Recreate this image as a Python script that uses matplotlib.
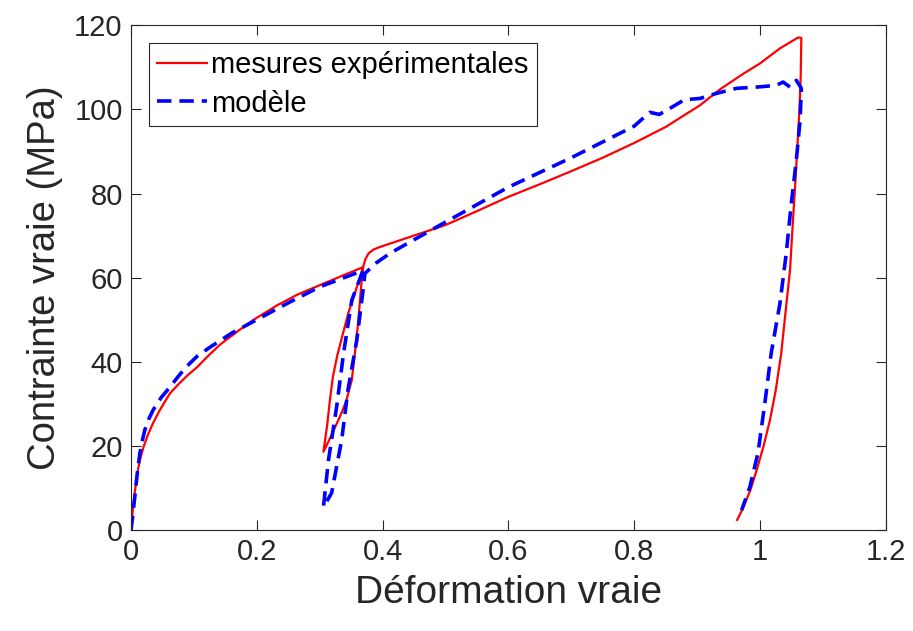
import matplotlib.pyplot as plt

# mesures expérimentales (déformation, contrainte)
exp_x = [0.0, 0.001, 0.003, 0.006, 0.010, 0.014, 0.020, 0.027, 0.035, 0.045, 0.055,
         0.062, 0.075, 0.090, 0.105, 0.120, 0.141, 0.170, 0.194, 0.232, 0.265, 0.30,
         0.335, 0.369,
         0.366, 0.361, 0.356, 0.351, 0.342, 0.332, 0.318, 0.306,
         0.312, 0.316, 0.321, 0.328, 0.337, 0.346, 0.356, 0.364, 0.369,
         0.373, 0.378, 0.386, 0.396, 0.42, 0.45, 0.5, 0.55, 0.6, 0.65, 0.7, 0.75,
         0.8, 0.85, 0.905, 0.937, 0.974, 1.0, 1.032, 1.061, 1.066,
         1.065, 1.063, 1.060, 1.056, 1.052, 1.048, 1.041, 1.034, 1.025, 1.016,
         1.006, 0.995, 0.985, 0.974, 0.964]
exp_y = [0.0, 2.0, 5.0, 9.0, 13.5, 16.6, 19.8, 22.7, 25.4, 28.3, 30.8,
         32.5, 34.6, 36.8, 38.7, 41.0, 44.0, 47.3, 49.9, 53.4, 56.0, 58.2,
         60.4, 62.5,
         58.0, 49.0, 42.0, 35.6, 30.5, 26.9, 22.3, 18.6,
         25.0, 30.5, 36.4, 41.5, 46.7, 51.8, 56.3, 60.0, 62.5,
         64.5, 65.8, 66.7, 67.3, 68.5, 70.0, 72.5, 75.8, 79.2, 82.2, 85.3, 88.5,
         92.0, 95.8, 101.0, 104.8, 108.5, 110.9, 114.5, 117.1, 117.0,
         108.0, 100.0, 92.0, 81.5, 72.0, 61.8, 52.0, 42.0, 33.0, 26.1,
         20.0, 14.3, 9.5, 5.5, 2.4]

# modèle
mod_x = [0.0, 0.002, 0.006, 0.010, 0.014, 0.018, 0.022, 0.028, 0.035, 0.048, 0.062,
         0.075, 0.088, 0.105, 0.126, 0.160, 0.2, 0.25, 0.3, 0.369,
         0.351, 0.338, 0.327, 0.314, 0.306,
         0.319, 0.335, 0.345, 0.359, 0.369, 0.372, 0.39, 0.412, 0.45, 0.5, 0.6, 0.7,
         0.8, 0.825, 0.84, 0.86, 0.88, 0.905, 0.931, 0.963, 0.995, 1.026, 1.037,
         1.048, 1.058, 1.066,
         1.064, 1.058, 1.050, 1.042, 1.032, 1.018, 1.008, 0.997, 0.984, 0.971]
mod_y = [0.0, 2.4, 7.9, 13.5, 18.2, 21.3, 23.8, 26.3, 28.5, 31.5, 34.0,
         36.5, 38.8, 41.3, 43.5, 46.8, 50.0, 54.0, 57.8, 61.7,
         54.6, 42.0, 29.3, 16.6, 5.5,
         8.8, 21.4, 33.3, 45.1, 57.0, 61.0, 63.5, 65.8, 69.0, 73.2, 81.5, 88.5,
         96.0, 99.3, 98.8, 100.5, 102.3, 102.6, 103.8, 105.0, 105.3, 105.7, 106.5,
         105.3, 106.9, 105.0,
         97.4, 87.9, 77.6, 65.8, 53.9, 42.0, 30.2, 18.3, 10.2, 4.7]

plt.rcParams['font.family'] = ['Liberation Sans', 'DejaVu Sans']

fig = plt.figure(figsize=(9.13, 6.31), dpi=100)
ax = fig.add_axes([0.1435, 0.160, 0.8265, 0.800])

ax.plot(exp_x, exp_y, color='#ff0000', lw=1.6, label='mesures expérimentales')
ax.plot(mod_x, mod_y, color='#0000ff', lw=2.6, ls=(0, (4, 2.2)), label='modèle')

ax.set_xlim(0, 1.2)
ax.set_ylim(0, 120)
ax.set_xticks([0, 0.2, 0.4, 0.6, 0.8, 1, 1.2])
ax.set_xticklabels(['0', '0.2', '0.4', '0.6', '0.8', '1', '1.2'])
ax.set_yticks(range(0, 121, 20))
ax.tick_params(direction='in', top=True, right=True, labelsize=21,
               length=7, width=0.8, colors='#262626', labelcolor='#262626', pad=6)
for s in ax.spines.values():
    s.set_color('#262626')
    s.set_linewidth(0.8)

ax.set_xlabel('Déformation vraie', fontsize=28, color='#262626', labelpad=6)
ax.set_ylabel('Contrainte vraie (MPa)', fontsize=27.5, color='#262626', labelpad=8)

leg = ax.legend(loc='upper left', fontsize=21, fancybox=False, framealpha=1,
                edgecolor='#262626', handlelength=1.7, handletextpad=0.15,
                borderpad=0.3, labelspacing=0.35, borderaxespad=0.6)
leg.get_frame().set_linewidth(0.8)

fig.savefig('out.png', dpi=100)
